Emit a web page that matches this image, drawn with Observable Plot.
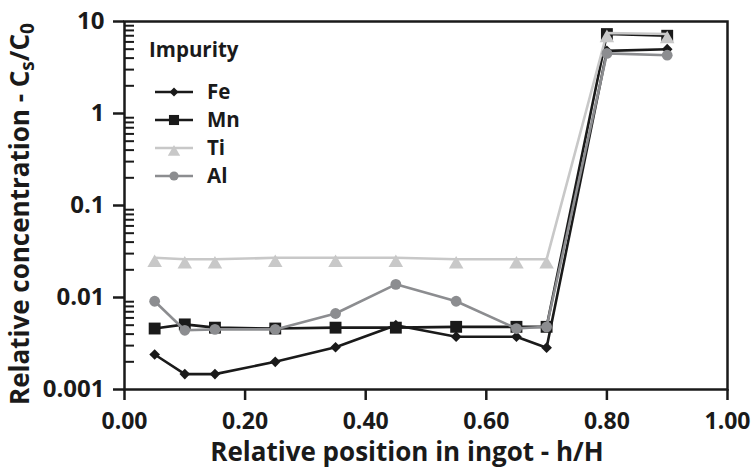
<!DOCTYPE html>
<html><head><meta charset="utf-8">
<script src="https://cdn.jsdelivr.net/npm/d3@7"></script>
<script src="https://cdn.jsdelivr.net/npm/@observablehq/plot@0.6"></script>
<style>body{margin:0;background:#fff;overflow:hidden;}</style>
</head><body><div id="chart"></div>
<script>
// Data
const positions = [0.05, 0.10, 0.15, 0.25, 0.35, 0.45, 0.55, 0.65, 0.70, 0.80, 0.90];
const fe = [0.0024, 0.00147, 0.00147, 0.0020, 0.00288, 0.0050, 0.00375, 0.00375, 0.00285, 4.8, 5.0];
const mn = [0.0046, 0.0051, 0.0047, 0.0046, 0.0047, 0.0047, 0.0048, 0.0048, 0.0048, 7.3, 7.0];
const ti = [0.027, 0.026, 0.026, 0.027, 0.027, 0.027, 0.026, 0.026, 0.026, 7.5, 7.3];
const al = [0.0091, 0.0044, 0.0045, 0.0045, 0.0067, 0.0139, 0.0091, 0.0046, 0.0048, 4.5, 4.3];
const seriesNames = ["Fe", "Mn", "Ti", "Al"];
const seriesValues = [fe, mn, ti, al];
const colors = ["#1a1a1a", "#1a1a1a", "#c8c8c8", "#8c8d90"];
const symbols = ["diamond2", "square", "triangle", "circle"];
const radii = [4.8, 6.7, 5.4, 5.4];
const symbolDy = [0, 0, 5, 0];
const xTicks = [0, 0.2, 0.4, 0.6, 0.8, 1.0];
const yTicks = [0.001, 0.01, 0.1, 1, 10];
const yMinor = [0.001, 0.01, 0.1, 1].flatMap(d => [2,3,4,5,6,7,8,9].map(k => +(d * k).toPrecision(3)));

const FONT = "'Open Sans', sans-serif";
const rows = seriesNames.map((name, s) =>
  positions.map((x, i) => ({series: name, x, y: seriesValues[s][i]})));

const marks = [
  Plot.ruleY(yMinor, {y: d => d, x1: 0, x2: 0, insetRight: -10, stroke: "#1a1a1a", strokeWidth: 2}),
  Plot.axisY(yTicks, {tickSize: 11, tickPadding: 9, tickFormat: d => String(d), fontSize: 24, strokeWidth: 2.5, label: null, stroke: "#1a1a1a", fill: "#1a1a1a"}),
  Plot.axisX(xTicks, {tickSize: 11, tickPadding: 12, tickFormat: d3.format(".2f"), fontSize: 23, strokeWidth: 2.5, label: null, stroke: "#1a1a1a", fill: "#1a1a1a"}),
  Plot.frame({stroke: "#1a1a1a", strokeWidth: 2.5})
];
seriesNames.forEach((name, s) => {
  marks.push(Plot.line(rows[s], {x: "x", y: "y", stroke: colors[s], strokeWidth: 2.6}));
  marks.push(Plot.dot(rows[s], {x: "x", y: "y", symbol: symbols[s], r: radii[s], fill: colors[s], stroke: "none", dy: symbolDy[s]}));
});

const chart = Plot.plot({
  width: 755, height: 469,
  marginLeft: 124, marginRight: 28, marginTop: 21, marginBottom: 80,
  x: {domain: [0, 1]},
  y: {type: "log", domain: [0.001, 10]},
  style: {fontFamily: FONT, fontSize: "23px", fontWeight: "bold", color: "#1a1a1a", background: "#fff"},
  marks
});
document.getElementById("chart").appendChild(chart);

const svg = d3.select(chart);
// Y axis title with subscripts
const yt = svg.append("text")
  .attr("transform", "translate(29,214) rotate(-90)")
  .attr("text-anchor", "middle")
  .attr("font-size", 26).attr("font-weight", "bold").attr("fill", "#1a1a1a");
yt.append("tspan").text("Relative concentration - C");
yt.append("tspan").attr("dy", 5).attr("font-size", 19).text("s");
yt.append("tspan").attr("dy", -5).text("/C");
yt.append("tspan").attr("dy", 5).attr("font-size", 19).text("0");
// X axis title
svg.append("text").attr("x", 407).attr("y", 461).attr("text-anchor", "middle")
  .attr("font-size", 26).attr("font-weight", "bold").attr("fill", "#1a1a1a")
  .text("Relative position in ingot - h/H");

// Legend
const lg = svg.append("g").attr("text-anchor", "start");
lg.append("text").attr("x", 149).attr("y", 57).attr("font-size", 20.5).attr("font-weight", "bold")
  .attr("fill", "#1a1a1a").text("Impurity");
const d3sym = {diamond2: d3.symbolDiamond2, square: d3.symbolSquare, triangle: d3.symbolTriangle, circle: d3.symbolCircle};
seriesNames.forEach((name, s) => {
  const y = 92 + s * 28;
  lg.append("line").attr("x1", 155).attr("x2", 193).attr("y1", y).attr("y2", y)
    .attr("stroke", colors[s]).attr("stroke-width", 2.5);
  const r = radii[s] * 0.85;
  lg.append("path").attr("transform", `translate(174,${y + symbolDy[s] * 0.85})`)
    .attr("d", d3.symbol(d3sym[symbols[s]], Math.PI * r * r)()).attr("fill", colors[s]);
  lg.append("text").attr("x", 207).attr("y", y + 7).attr("font-size", 20.5).attr("font-weight", "bold")
    .attr("fill", "#1a1a1a").text(name);
});
</script>
</body></html>
